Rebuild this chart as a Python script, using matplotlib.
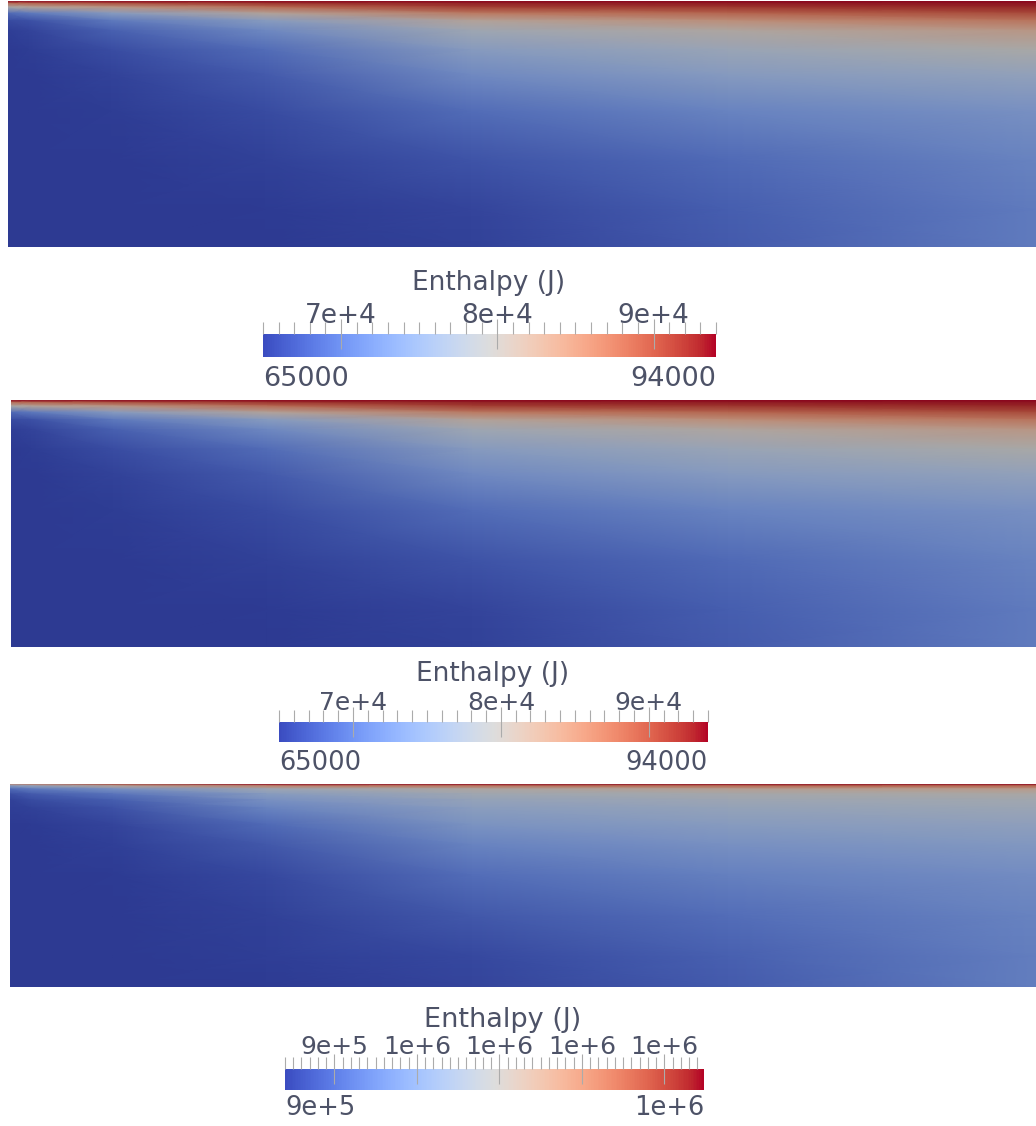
import numpy as np
import matplotlib
matplotlib.use("Agg")
import matplotlib.pyplot as plt
import matplotlib.transforms as mtransforms
from matplotlib.colors import Normalize, ListedColormap
from matplotlib.cm import ScalarMappable

# ---------------------------------------------------------------------------
# Sampled enthalpy field (J). Columns are stations along the channel
# (fraction of length), rows are depths below the heated top wall
# (fraction of the channel height).
# ---------------------------------------------------------------------------
X_STATIONS = [0.0, 0.02, 0.10, 0.25, 0.45, 0.70, 1.00]
DEPTHS = [0.0, 0.01, 0.025, 0.05, 0.08, 0.12, 0.20, 0.30, 0.45, 0.65, 0.85, 1.00]

# case A / case B (range 65000 - 94000 J)
H_A_X000 = [94000, 87600, 79500, 69400, 66500, 65400, 65100, 65000, 65000, 65000, 65000, 65000]
H_A_X002 = [94000, 88200, 81000, 70800, 67000, 65900, 65300, 65000, 65000, 65000, 65000, 65000]
H_A_X010 = [94000, 89700, 83000, 75400, 70800, 68500, 66600, 65700, 65300, 65100, 65000, 65000]
H_A_X025 = [94000, 91700, 87600, 81000, 75400, 72500, 69600, 67900, 66500, 65600, 65200, 65100]
H_A_X045 = [94000, 92800, 91100, 86200, 81000, 78100, 75200, 72800, 69600, 67200, 66000, 65600]
H_A_X070 = [94000, 93100, 91700, 88200, 84100, 80400, 77500, 75200, 72000, 69400, 68200, 67900]
H_A_X100 = [94000, 93400, 92600, 90200, 86800, 83000, 79500, 76600, 73700, 72000, 71100, 71100]

# case C (range 870000 - 1124000 J)
H_C_X000 = [1048000, 959000, 908000, 885000, 875000, 873000, 870000, 870000, 870000, 870000, 870000, 870000]
H_C_X002 = [1061000, 972000, 921000, 895000, 883000, 875000, 871000, 870000, 870000, 870000, 870000, 870000]
H_C_X010 = [1099000, 1010000, 946000, 916000, 898000, 888000, 878000, 874000, 871000, 870000, 870000, 870000]
H_C_X025 = [1124000, 1048000, 984000, 961000, 946000, 931000, 908000, 893000, 881000, 875000, 873000, 871000]
H_C_X045 = [1124000, 1061000, 1002000, 987000, 974000, 964000, 949000, 931000, 911000, 893000, 881000, 878000]
H_C_X070 = [1124000, 1068000, 1015000, 994000, 984000, 974000, 961000, 946000, 928000, 911000, 900000, 895000]
H_C_X100 = [1124000, 1073000, 1022000, 1000000, 989000, 982000, 969000, 956000, 941000, 931000, 926000, 926000]

RANGE_A = [65000, 94000]
RANGE_C = [870000, 1124000]

# colour-bar ticks and labels
MAJOR_A = [70000, 80000, 90000]
MINOR_STEP_A = 1000
TICK_LABELS_A = ["7e+4", "8e+4", "9e+4"]
END_LABELS_A = ["65000", "94000"]

MAJOR_C = [900000, 950000, 1000000, 1050000, 1100000]
MINOR_STEP_C = 5000
TICK_LABELS_C = ["9e+5", "1e+6", "1e+6", "1e+6", "1e+6"]
END_LABELS_C = ["9e+5", "1e+6"]

TITLE = "Enthalpy (J)"

# ---------------------------------------------------------------------------
W, H = 1036, 1126
fig = plt.figure(figsize=(W / 100, H / 100), dpi=100)
fig.patch.set_facecolor("white")

TEXT_COLOR = "#4d5267"
TICK_COLOR = "#ababab"
FONT = "DejaVu Sans"

base = plt.get_cmap("coolwarm")
bar_cmap = ListedColormap(base(np.linspace(0, 1, 256)))
# lit surface: the rendered field is darker than the legend colours
SHADE = 0.76
lit = base(np.linspace(0, 1, 256))
lit[:, :3] *= SHADE
field_cmap = ListedColormap(lit)


def px_axes(x0, y0, x1, y1):
    return fig.add_axes([x0 / W, 1 - y1 / H, (x1 - x0) / W, (y1 - y0) / H])


def draw_field(box, columns, vrange):
    ax = px_axes(*box)
    grid = np.column_stack(columns)
    xx, yy = np.meshgrid(X_STATIONS, DEPTHS)
    ax.pcolormesh(xx, yy, grid, shading="gouraud", cmap=field_cmap,
                  norm=Normalize(*vrange), rasterized=True)
    ax.set_xlim(0, 1)
    ax.set_ylim(1, 0)
    ax.axis("off")


def draw_bar(box, vrange, major, minor_step, tick_labels, end_labels,
             title_xy, tick_base, end_base, sizes):
    cax = px_axes(*box)
    norm = Normalize(*vrange)
    cb = fig.colorbar(ScalarMappable(norm=norm, cmap=bar_cmap), cax=cax,
                      orientation="horizontal")
    cb.outline.set_visible(False)
    cax.xaxis.set_ticks_position("top")
    minor = np.arange(vrange[0], vrange[1] + 1, minor_step)
    cax.set_xticks(major)
    cax.set_xticks(minor, minor=True)
    cax.tick_params(axis="x", which="major", direction="inout", length=21,
                    width=0.8, color=TICK_COLOR, labeltop=False, labelbottom=False)
    cax.tick_params(axis="x", which="minor", direction="out", length=9,
                    width=0.8, color=TICK_COLOR)
    cax.set_xlim(*vrange)

    blend = mtransforms.blended_transform_factory(cax.transData, fig.transFigure)
    fs_title, fs_tick, fs_end = sizes
    fig.text(title_xy[0] / W, 1 - title_xy[1] / H, TITLE, ha="center",
             va="baseline", fontsize=fs_title, color=TEXT_COLOR, family=FONT)
    for v, lab in zip(major, tick_labels):
        cax.text(v, 1 - tick_base / H, lab, transform=blend, ha="center",
                 va="baseline", fontsize=fs_tick, color=TEXT_COLOR, family=FONT,
                 clip_on=False)
    cax.text(vrange[0], 1 - end_base / H, end_labels[0], transform=blend,
             ha="left", va="baseline", fontsize=fs_end, color=TEXT_COLOR,
             family=FONT, clip_on=False)
    cax.text(vrange[1], 1 - end_base / H, end_labels[1], transform=blend,
             ha="right", va="baseline", fontsize=fs_end, color=TEXT_COLOR,
             family=FONT, clip_on=False)


cols_a = [H_A_X000, H_A_X002, H_A_X010, H_A_X025, H_A_X045, H_A_X070, H_A_X100]
cols_c = [H_C_X000, H_C_X002, H_C_X010, H_C_X025, H_C_X045, H_C_X070, H_C_X100]

draw_field((8, 1, 1036, 247), cols_a, RANGE_A)
draw_bar((263, 334, 716, 357), RANGE_A, MAJOR_A, MINOR_STEP_A, TICK_LABELS_A,
         END_LABELS_A, (489, 290), 323, 386, (19, 19, 19.5))

draw_field((11, 400, 1036, 647), cols_a, RANGE_A)
draw_bar((279, 722, 708, 742), RANGE_A, MAJOR_A, MINOR_STEP_A, TICK_LABELS_A,
         END_LABELS_A, (493, 681), 710, 770, (19, 18, 18.5))

draw_field((10, 784, 1036, 987), cols_c, RANGE_C)
draw_bar((285, 1069, 704, 1090), RANGE_C, MAJOR_C, MINOR_STEP_C, TICK_LABELS_C,
         END_LABELS_C, (503, 1027), 1054, 1115, (19.5, 18, 18.5))

fig.savefig("out.png", dpi=100, facecolor="white")
